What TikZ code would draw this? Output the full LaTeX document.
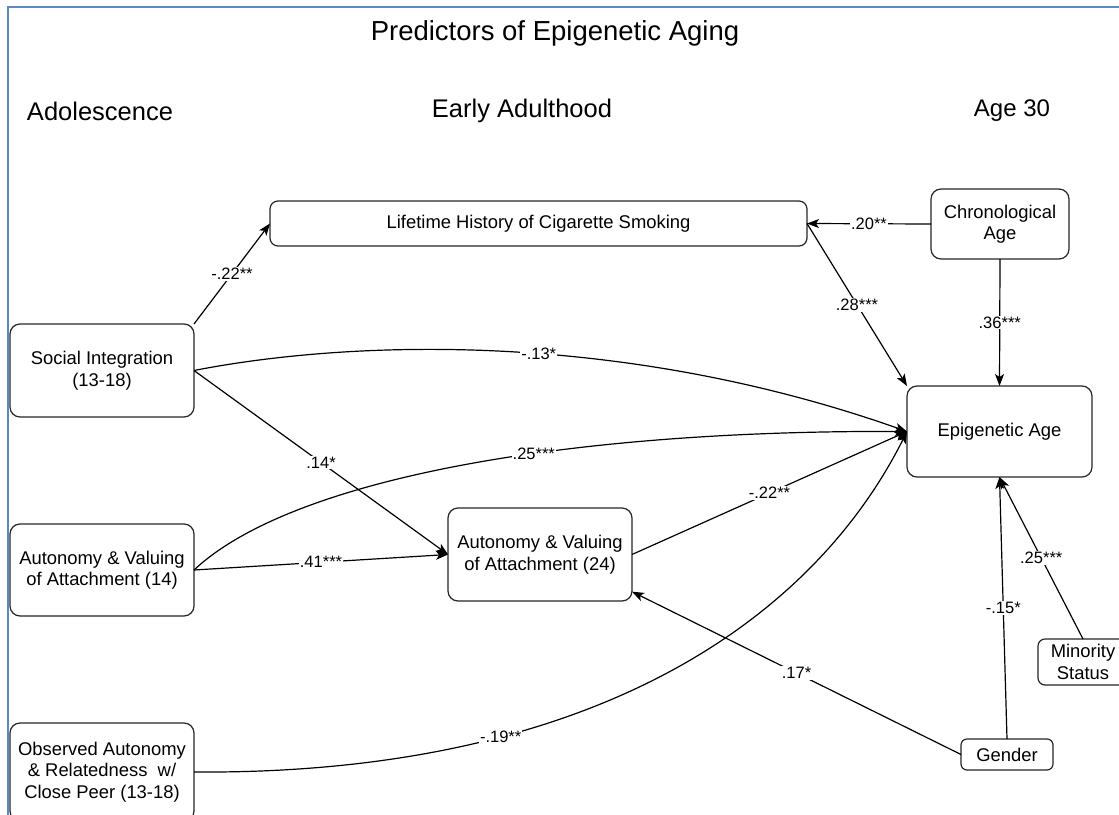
\documentclass[tikz,border=0pt]{standalone}
\usepackage{fontspec}
\setmainfont{Liberation Sans}
\usetikzlibrary{arrows.meta}
\definecolor{framecol}{RGB}{94,135,201}
\tikzset{
  box/.style={draw=black!85, line width=1.2pt, rounded corners=10pt, inner sep=0pt, outer sep=0pt,
    align=center, font=\fontsize{18.4}{21.5}\selectfont},
  hdr/.style={font=\fontsize{25.5}{30}\selectfont, inner sep=0pt},
  conn/.style={line width=1.2pt, draw=black, -{Stealth[length=12pt,width=9pt,inset=3pt]}},
  plain/.style={line width=1.2pt, draw=black},
  lbl/.style={fill=white, inner sep=1pt, font=\fontsize{16.5}{18}\selectfont},
}
\begin{document}
\begin{tikzpicture}[x=1pt,y=-1pt]
\useasboundingbox (0,0) rectangle (1119,814);
\clip (0,0) rectangle (1119,814);
\fill[white] (0,0) rectangle (1119,814);
\draw[framecol, line width=1.6pt] (8,7) rectangle (1140,840);

% titles
\node[hdr, font=\fontsize{27.5}{30}\selectfont] (title) at (555,33) {Predictors of Epigenetic Aging};
\node[hdr] (hadol) at (100,111) {Adolescence};
\node[hdr] (hearly) at (522,111) {Early Adulthood};
\node[hdr, font=\fontsize{24}{30}\selectfont] (hage) at (1012,111) {Age 30};

% nodes
\node[box, rounded corners=8pt, minimum width=537pt, minimum height=45pt] (life) at (538.5,223.5) {Lifetime History of Cigarette Smoking};
\node[box, minimum width=138pt, minimum height=70pt] (chrono) at (1000,224) {Chronological\\Age};
\node[box, minimum width=185pt, minimum height=91pt] (epi) at (999.5,431.5) {Epigenetic Age};
\node[box, rounded corners=7pt, minimum width=90pt, minimum height=46pt] (minority) at (1083,662) {Minority\\Status};
\node[box, rounded corners=6pt, minimum width=92pt, minimum height=31pt] (gender) at (1007,754.5) {Gender};
\node[box, minimum width=184pt, minimum height=93pt] (social) at (102,370.5) {Social Integration\\(13-18)};
\node[box, minimum width=184pt, minimum height=92pt] (aut14) at (102,570) {Autonomy \& Valuing\\of Attachment (14)};
\node[box, minimum width=184pt, minimum height=98pt] (obs) at (102,772) {Observed Autonomy\\\& Relatedness\ \ w/\\Close Peer (13-18)};
\node[box, minimum width=184pt, minimum height=93pt] (aut24) at (540,554.5) {Autonomy \& Valuing\\of Attachment (24)};

% connectors
\draw[conn] (social.north east) -- (life.west) node[lbl, midway] {-.22**};
\draw[conn] (chrono.west) -- (life.east) node[lbl, midway] {.20**};
\draw[conn] (life.east) -- (epi.north west) node[lbl, midway] {.28***};
\draw[conn] (chrono.south) -- (epi.north) node[lbl, midway] {.36***};
\draw[conn] (social.east) .. controls (350,340) and (620,330) .. (epi.west) node[lbl, pos=0.55] {-.13*};
\draw[conn] (aut14.east) .. controls (290,480) and (560,430) .. (epi.west) node[lbl, pos=0.6] {.25***};
\draw[conn] (social.east) -- (aut24.west) node[lbl, midway] {.14*};
\draw[conn] (aut14.east) -- (aut24.west) node[lbl, midway] {.41***};
\draw[conn] (aut24.east) -- (epi.west) node[lbl, midway] {-.22**};
\draw[conn] (gender.west) -- (aut24.-22.5) node[lbl, midway] {.17*};
\draw[conn] (gender.north) -- (epi.south) node[lbl, midway] {-.15*};
\draw[conn] (minority.north) -- (epi.south) node[lbl, midway] {.25***};
\draw[conn] (obs.east) .. controls (600,775) and (815,615) .. (epi.west) node[lbl, pos=0.29] {-.19**};
\end{tikzpicture}
\end{document}
